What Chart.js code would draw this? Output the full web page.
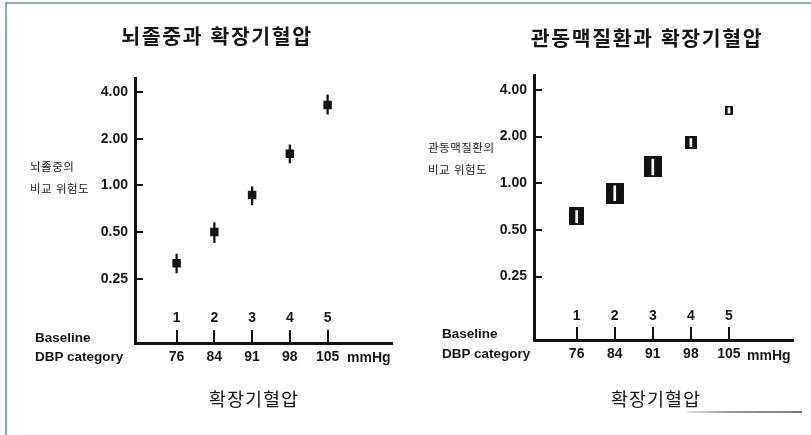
<!DOCTYPE html>
<html lang="ko">
<head>
<meta charset="utf-8">
<title>확장기혈압과 비교 위험도</title>
<script src="https://cdn.jsdelivr.net/npm/chart.js@4/dist/chart.umd.min.js"></script>
<style>
  html, body { margin: 0; padding: 0; background: #fff; }
  #page { position: relative; width: 811px; height: 435px; overflow: hidden; background: #fff; }
  canvas { position: absolute; top: 0; }
  .t { position: absolute; white-space: nowrap; color: #161616; margin: 0; }
  .ko { font-family: "Noto Sans CJK KR", "Noto Sans", sans-serif; }
  .en { font-family: "Liberation Sans", Arial, sans-serif; font-weight: bold; }
  .title { font-size: 20.5px; line-height: 20.5px; font-weight: bold; letter-spacing: 1.6px; transform: translateX(-50%); }
  .ylab { font-size: 11.5px; line-height: 11.5px; letter-spacing: 0.5px; }
  .base { font-size: 13.5px; line-height: 13.5px; }
  .unit { font-size: 14px; line-height: 14px; }
  .xtitle { font-size: 18.5px; line-height: 18.5px; letter-spacing: 1px; transform: translateX(-50%); }
  .rule { position: absolute; background: #86a7b8; }
</style>
</head>
<body>
<div id="page">
  <div class="rule" style="left:5px;top:2px;width:806px;height:2px;"></div>
  <div class="rule" style="left:5px;top:2px;width:2px;height:433px;"></div>

  <canvas id="strokeChart" width="405" height="435" style="left:0px;"></canvas>
  <canvas id="chdChart" width="406" height="435" style="left:405px;"></canvas>

  <div class="t ko title" style="left:217px;top:25px;">뇌졸중과 확장기혈압</div>
  <div class="t ko title" style="left:647px;top:26.5px;">관동맥질환과 확장기혈압</div>

  <div class="t ko ylab" style="left:30px;top:161px;">뇌졸중의</div>
  <div class="t ko ylab" style="left:30px;top:183px;">비교 위험도</div>
  <div class="t ko ylab" style="left:428px;top:142px;">관동맥질환의</div>
  <div class="t ko ylab" style="left:428px;top:164px;">비교 위험도</div>

  <div class="t en base" style="left:35px;top:331px;">Baseline</div>
  <div class="t en base" style="left:35px;top:350px;">DBP category</div>
  <div class="t en base" style="left:442px;top:327px;">Baseline</div>
  <div class="t en base" style="left:442px;top:347px;">DBP category</div>

  <div class="t en unit" style="left:347px;top:350px;">mmHg</div>
  <div class="t en unit" style="left:747px;top:348px;">mmHg</div>

  <div class="t ko xtitle" style="left:254px;top:389px;">확장기혈압</div>
  <div class="t ko xtitle" style="left:656px;top:389px;">확장기혈압</div>

  <div style="position:absolute;left:687px;top:411px;width:115px;height:2px;background:linear-gradient(to right,#e4e4e4,#9a9a9a 35%,#7a7a7a);"></div>
</div>

<script>
// Baseline diastolic blood pressure categories
const dbpCategory = [1, 2, 3, 4, 5];
const dbpMmHg = ['76', '84', '91', '98', '105'];

// Relative-risk axis ticks (log scale)
const riskTicks = [0.25, 0.5, 1, 2, 4];

// Stroke: relative risk and 95% confidence limits
const strokeRisk = [0.314, 0.50, 0.868, 1.60, 3.31];
const strokeLow  = [0.272, 0.427, 0.748, 1.40, 2.88];
const strokeHigh = [0.361, 0.575, 0.98, 1.83, 3.84];

// Coronary heart disease: relative risk and 95% confidence limits
const chdRisk = [0.612, 0.862, 1.28, 1.83, 2.94];
const chdLow  = [0.557, 0.772, 1.13, 1.72, 2.83];
const chdHigh = [0.666, 0.961, 1.43, 1.94, 3.06];

// Drawing styles
const INK = '#121212';
const FONT = "'Liberation Sans', Arial, sans-serif";
const chdBoxW = [15, 18, 18, 12, 8];
const chdBoxH = [18, 21, 21, 13, 9];

Chart.defaults.color = '#161616';
Chart.defaults.font.family = FONT;

function boxImage(w, h) {
  const c = document.createElement('canvas');
  c.width = w; c.height = h;
  const g = c.getContext('2d');
  g.fillStyle = INK;
  g.fillRect(0, 0, w, h);
  return c;
}

function tickList() {
  return dbpCategory.map(v => ({ value: v }));
}

function panelOptions(p) {
  return {
    responsive: false,
    animation: false,
    events: [],
    layout: { padding: p.padding },
    plugins: { legend: { display: false }, tooltip: { enabled: false }, title: { display: false } },
    scales: {
      x: {
        type: 'linear', position: 'bottom', min: p.xMin, max: p.xMax, bounds: 'data', offset: false,
        afterBuildTicks: s => { s.ticks = tickList(); },
        afterFit: s => { s.height = 40; },
        border: { display: true, color: INK, width: 3 },
        grid: { drawOnChartArea: false, offset: false, color: INK, lineWidth: 2, tickLength: -13 },
        ticks: {
          autoSkip: false, maxRotation: 0, minRotation: 0, padding: 19, color: '#161616',
          font: { family: FONT, size: 14, weight: 'bold' },
          callback: (v, i) => dbpMmHg[i]
        }
      },
      xNum: {
        type: 'linear', axis: 'x', position: { y: p.yMin }, min: p.xMin, max: p.xMax, bounds: 'data', offset: false,
        afterBuildTicks: s => { s.ticks = tickList(); },
        border: { display: false },
        grid: { display: false, drawTicks: false },
        ticks: {
          autoSkip: false, maxRotation: 0, minRotation: 0, padding: p.numPad, color: '#161616',
          font: { family: FONT, size: 14, weight: 'bold' },
          callback: (v, i) => String(dbpCategory[i])
        }
      },
      y: {
        type: 'logarithmic', position: 'left', min: p.yMin, max: p.yMax, bounds: 'data',
        afterBuildTicks: s => { s.ticks = riskTicks.map(v => ({ value: v })); },
        afterFit: s => { s.width = 80; },
        border: { display: true, color: INK, width: 3 },
        grid: { drawOnChartArea: false, color: INK, lineWidth: 2, tickLength: -8 },
        ticks: {
          padding: 15, color: '#161616',
          font: { family: FONT, size: 14, weight: 'bold' },
          callback: v => Number(v).toFixed(2)
        }
      }
    }
  };
}

// Left panel: stroke
new Chart(document.getElementById('strokeChart'), {
  type: 'scatter',
  data: {
    datasets: [
      {
        type: 'scatter', xAxisID: 'x', yAxisID: 'y', order: 0,
        data: dbpCategory.map((x, i) => ({ x, y: strokeRisk[i] })),
        pointStyle: 'rect', pointRadius: 6, backgroundColor: INK, borderWidth: 0
      },
      {
        type: 'bar', xAxisID: 'x', yAxisID: 'y', order: 1,
        data: dbpCategory.map((x, i) => ({ x, y: [strokeLow[i], strokeHigh[i]] })),
        backgroundColor: INK, borderWidth: 0, barThickness: 1.6
      }
    ]
  },
  options: panelOptions({
    padding: { left: 55, right: 13.3, top: 78, bottom: 52 },
    xMin: -0.102, xMax: 6.698, yMin: 0.0961, yMax: 4.94, numPad: -33
  })
});

// Right panel: coronary heart disease
const chdBoxes = chdBoxW.map((w, i) => boxImage(w, chdBoxH[i]));
new Chart(document.getElementById('chdChart'), {
  type: 'scatter',
  data: {
    datasets: [
      {
        type: 'bar', xAxisID: 'x', yAxisID: 'y', order: 0,
        data: dbpCategory.map((x, i) => ({ x, y: [chdLow[i], chdHigh[i]] })),
        backgroundColor: '#ffffff', borderWidth: 0, barThickness: 2
      },
      {
        type: 'scatter', xAxisID: 'x', yAxisID: 'y', order: 1,
        data: dbpCategory.map((x, i) => ({ x, y: chdRisk[i] })),
        pointStyle: ctx => chdBoxes[ctx.dataIndex], pointRadius: 10,
        backgroundColor: INK, borderWidth: 0
      }
    ]
  },
  options: panelOptions({
    padding: { left: 49, right: 18.3, top: 75, bottom: 55 },
    xMin: -0.12, xMax: 6.674, yMin: 0.0975, yMax: 4.99, numPad: -32
  })
});
</script>
</body>
</html>
